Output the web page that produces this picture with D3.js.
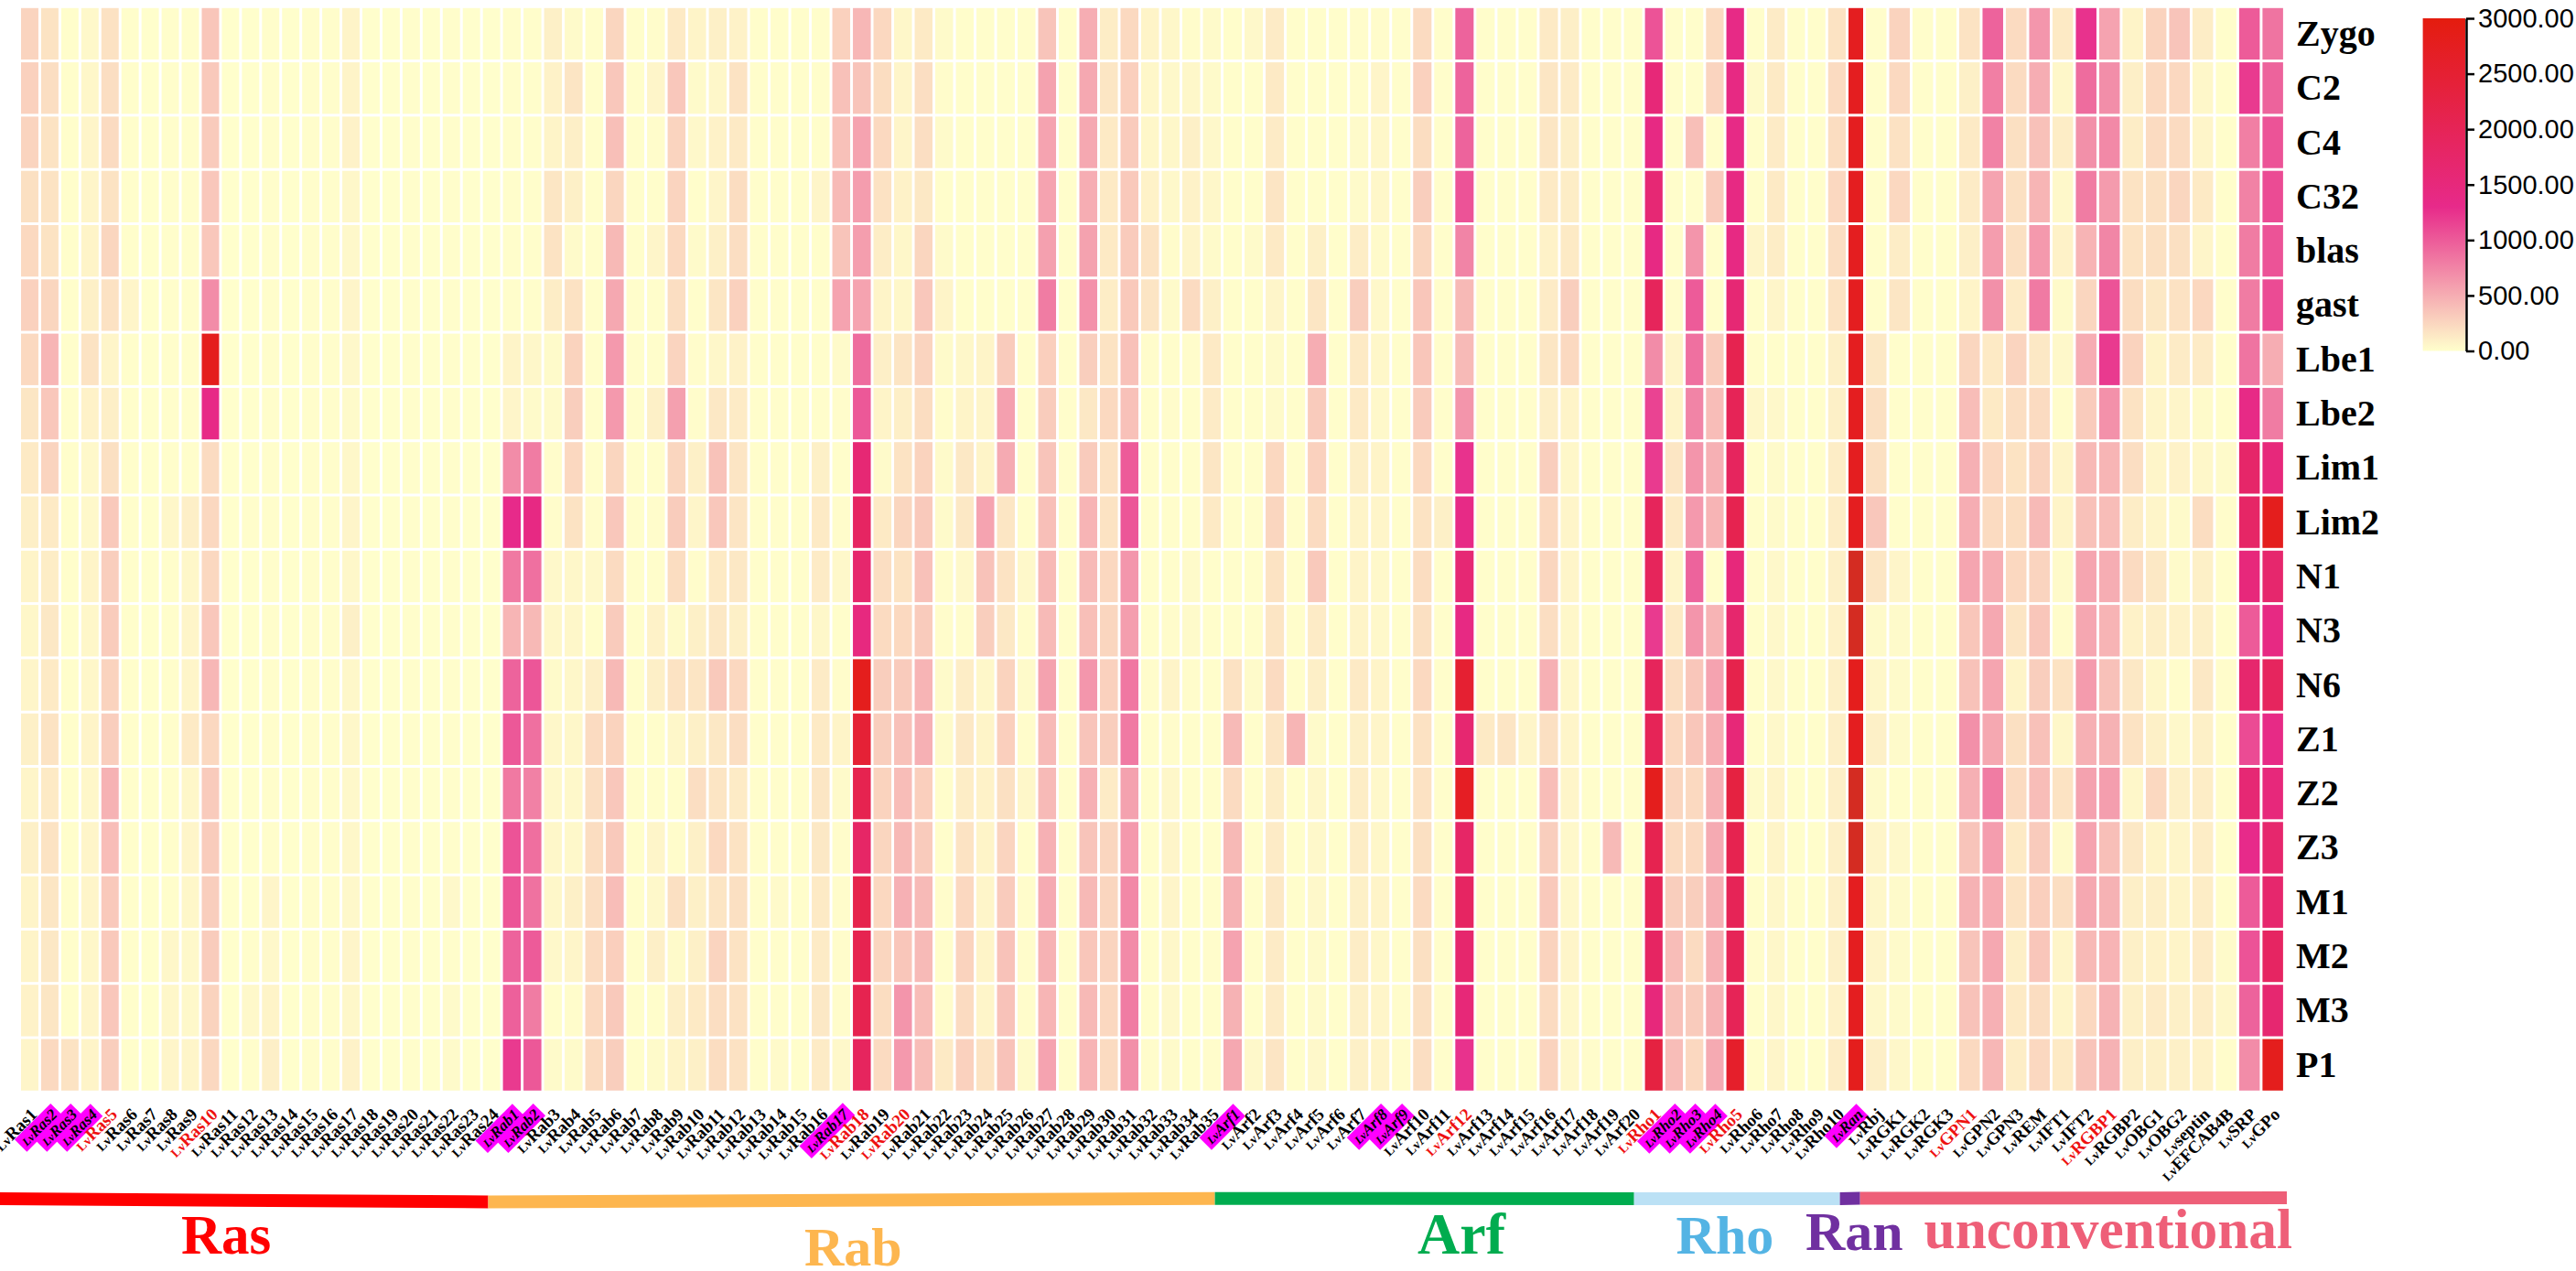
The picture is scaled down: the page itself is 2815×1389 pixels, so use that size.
<!DOCTYPE html>
<html><head><meta charset="utf-8">
<script src="https://cdn.jsdelivr.net/npm/d3@7/dist/d3.min.js"></script>
<style>html,body{margin:0;padding:0;background:#fff}svg{display:block}</style></head>
<body><svg id="c" width="2815" height="1389"></svg>
<script>
const stages = ["Zygo","C2","C4","C32","blas","gast","Lbe1","Lbe2","Lim1","Lim2","N1","N3","N6","Z1","Z2","Z3","M1","M2","M3","P1"];

const rasNames = ["LvRas1","LvRas2","LvRas3","LvRas4","LvRas5","LvRas6","LvRas7","LvRas8","LvRas9","LvRas10","LvRas11","LvRas12","LvRas13","LvRas14","LvRas15","LvRas16","LvRas17","LvRas18","LvRas19","LvRas20","LvRas21","LvRas22","LvRas23","LvRas24"];
const rabNames = ["LvRab1","LvRab2","LvRab3","LvRab4","LvRab5","LvRab6","LvRab7","LvRab8","LvRab9","LvRab10","LvRab11","LvRab12","LvRab13","LvRab14","LvRab15","LvRab16","LvRab17","LvRab18","LvRab19","LvRab20","LvRab21","LvRab22","LvRab23","LvRab24","LvRab25","LvRab26","LvRab27","LvRab28","LvRab29","LvRab30","LvRab31","LvRab32","LvRab33","LvRab34","LvRab35"];
const arfNames = ["LvArf1","LvArf2","LvArf3","LvArf4","LvArf5","LvArf6","LvArf7","LvArf8","LvArf9","LvArf10","LvArf11","LvArf12","LvArf13","LvArf14","LvArf15","LvArf16","LvArf17","LvArf18","LvArf19","LvArf20"];
const rhoNames = ["LvRho1","LvRho2","LvRho3","LvRho4","LvRho5","LvRho6","LvRho7","LvRho8","LvRho9","LvRho10"];
const ranNames = ["LvRan"];
const otherNames = ["LvRbj","LvRGK1","LvRGK2","LvRGK3","LvGPN1","LvGPN2","LvGPN3","LvREM","LvIFT1","LvIFT2","LvRGBP1","LvRGBP2","LvOBG1","LvOBG2","Lvseptin","LvEFCAB4B","LvSRP","LvGPo"];

const redLabels = ["LvRas5","LvRas10","LvRab18","LvRab20","LvArf12","LvRho1","LvRho5","LvGPN1","LvRGBP1"];
const boxedLabels = ["LvRas2","LvRas3","LvRas4","LvRab1","LvRab2","LvRab17","LvArf1","LvArf8","LvArf9","LvRho2","LvRho3","LvRho4","LvRan"];

// Each inner list is one gene, values in the order of `stages`.
const rasValues = [
[260,280,260,190,230,280,230,150,130,100,70,50,60,90,60,90,70,70,80,60],
[170,200,170,170,170,250,450,340,260,130,110,140,130,170,130,170,150,140,150,230],
[15,15,15,15,15,15,15,15,15,15,15,15,15,15,15,15,15,15,15,170],
[40,50,60,60,70,90,170,80,40,40,70,50,50,70,50,60,60,50,60,70],
[180,200,220,170,250,180,60,100,190,330,300,310,270,300,470,400,330,330,340,300],
[10,10,10,10,10,60,10,10,10,10,10,10,10,10,10,10,10,10,10,10],
[5,5,5,5,5,5,5,5,5,5,5,5,5,5,5,5,5,5,5,5],
[10,10,10,10,10,10,10,10,10,50,10,10,10,10,10,10,10,50,50,60],
[10,10,10,10,10,10,10,10,10,100,50,60,60,130,50,60,50,40,40,60],
[350,330,320,340,340,700,2800,1350,220,240,240,340,440,240,320,310,300,310,270,240],
[5,5,5,5,5,5,5,5,5,5,5,5,5,5,5,5,5,5,5,5],
[5,5,5,5,5,5,5,5,5,10,5,5,5,5,5,5,5,10,40,10],
[10,10,10,10,10,10,10,10,10,10,10,10,10,10,10,10,60,40,70,100],
[5,5,5,5,5,5,5,5,5,5,5,5,5,5,5,5,5,5,5,5],
[10,10,10,10,10,10,10,10,10,10,10,10,10,10,10,10,10,10,10,10],
[10,10,10,10,10,10,10,10,10,10,10,10,10,10,10,10,10,10,10,10],
[70,70,80,50,40,60,40,30,50,60,50,90,50,50,40,50,40,60,50,80],
[5,5,5,5,5,5,5,5,5,5,5,5,5,5,5,5,5,5,5,5],
[5,5,5,5,5,5,5,5,5,5,5,5,5,5,5,5,5,5,5,5],
[10,10,10,10,10,10,10,10,10,10,10,10,10,10,10,10,10,10,10,10],
[5,5,5,5,5,5,5,5,5,5,5,5,5,5,5,5,5,5,5,5],
[10,10,10,10,10,10,10,10,10,10,10,10,10,10,10,10,40,10,30,30],
[5,5,5,5,5,5,5,5,5,5,5,5,5,5,5,5,5,5,5,5],
[5,5,5,5,5,5,5,5,5,5,5,5,5,5,5,5,5,5,5,5]
];
const rabValues = [
[10,10,10,10,10,10,70,60,700,1300,820,450,950,1020,820,1050,1040,950,970,1200],
[10,10,10,10,10,10,50,30,800,1400,870,430,1030,870,770,880,860,1000,800,1020],
[90,80,70,150,170,110,30,30,20,20,40,50,30,50,40,50,50,40,10,30],
[30,160,100,90,30,180,270,300,240,170,50,50,50,50,40,40,90,60,20,30],
[10,10,10,10,10,10,10,10,10,20,40,10,100,220,200,210,200,220,230,220],
[250,340,390,250,430,530,620,620,250,340,220,320,430,270,340,330,400,290,330,300],
[10,10,10,10,10,10,10,10,10,10,10,10,10,10,10,10,10,10,10,10],
[20,60,20,10,60,10,10,90,10,20,10,80,100,10,10,60,40,100,10,30],
[130,340,260,260,230,200,260,580,250,310,210,30,170,50,10,20,190,30,100,70],
[70,30,40,10,30,10,20,20,90,60,20,90,160,90,200,90,90,90,130,90],
[90,50,80,60,90,150,50,140,370,340,130,140,330,140,160,230,160,260,200,210],
[80,170,130,210,200,280,80,120,160,160,140,90,240,200,120,170,190,170,180,180],
[10,10,10,10,10,10,10,10,10,10,10,10,10,10,10,10,10,10,10,10],
[10,10,10,10,10,10,10,10,10,10,10,10,10,10,10,10,30,10,10,30],
[10,10,10,10,10,10,10,10,10,10,10,10,10,10,10,10,10,10,10,10],
[10,10,10,60,10,10,10,10,90,130,120,50,120,130,150,140,130,120,140,120],
[280,380,380,420,360,560,30,20,10,20,40,10,20,70,30,20,20,20,20,40],
[440,360,560,600,590,560,900,1020,1600,1850,1700,1450,2800,2450,2100,1800,2150,2100,2100,1900],
[240,210,230,180,110,70,100,70,30,130,200,220,300,300,270,250,240,250,210,220],
[50,60,60,80,50,50,160,100,170,250,170,230,320,380,400,430,480,350,650,620],
[130,200,200,140,250,340,260,210,270,330,380,320,460,480,290,320,420,420,400,400],
[30,20,30,10,30,70,30,20,30,30,20,20,30,30,10,10,20,10,20,130],
[10,10,10,10,10,10,50,70,140,140,40,20,110,140,110,170,240,270,220,280],
[10,10,10,10,10,10,70,60,70,560,370,300,50,70,80,70,60,70,60,170],
[10,10,10,10,10,10,320,580,520,150,170,140,270,290,190,260,320,370,370,370],
[10,10,10,10,10,10,10,10,10,10,40,20,30,20,50,10,20,20,20,30],
[360,570,560,560,580,800,290,310,360,390,430,420,570,420,420,480,520,470,450,560],
[10,10,10,10,10,10,10,10,10,10,10,10,10,10,10,10,10,10,10,10],
[500,530,530,500,570,670,300,140,320,460,420,390,640,360,480,360,430,350,430,460],
[110,150,130,130,130,110,170,230,180,170,240,250,280,300,120,250,250,260,240,220],
[230,290,320,330,320,330,380,380,1000,1030,640,590,830,810,570,620,720,710,800,680],
[70,50,50,80,170,160,20,10,10,10,10,10,20,10,10,10,10,10,10,20],
[50,40,50,40,20,30,10,20,10,10,10,20,70,20,50,60,60,50,40,30],
[20,50,90,80,60,220,20,10,10,10,30,30,20,10,10,10,10,10,10,10],
[30,30,40,50,30,90,130,120,150,130,10,10,10,10,10,10,10,20,10,20]
];
const arfValues = [
[10,10,10,10,10,10,10,10,10,10,10,10,180,420,220,430,470,560,470,530],
[40,10,10,10,30,10,10,10,10,10,10,10,30,10,10,10,10,10,10,40],
[120,130,120,160,130,60,30,30,240,250,170,160,220,160,110,120,140,120,120,160],
[10,10,10,10,10,10,10,10,10,10,10,10,10,450,10,10,10,10,10,10],
[10,10,10,10,90,150,500,320,280,220,330,120,100,30,50,40,40,30,30,40],
[10,10,10,10,10,10,10,10,10,10,10,10,10,10,10,10,10,10,10,10],
[20,20,30,30,110,300,130,130,100,70,70,70,130,90,110,110,90,110,90,90],
[20,60,50,50,30,40,50,40,70,60,40,40,70,60,40,50,70,50,60,70],
[10,10,10,10,10,10,10,10,10,10,10,10,10,10,10,10,10,10,20,20],
[220,280,210,300,250,350,350,320,230,170,210,190,230,180,180,190,220,190,190,200],
[10,10,10,10,10,10,10,10,10,90,10,10,10,10,10,10,10,10,10,10],
[950,950,950,1050,750,430,420,650,1250,1350,1600,1400,2500,1650,2700,1800,1850,1700,1550,1250],
[10,10,10,10,10,10,10,10,10,10,10,10,10,130,10,10,10,10,10,10],
[10,10,10,10,10,10,10,10,10,10,10,10,10,160,10,10,10,10,10,10],
[10,10,10,10,10,10,10,10,10,10,10,10,10,60,10,10,10,10,10,10],
[130,150,150,130,80,120,150,100,300,230,250,200,480,190,400,300,330,270,220,270],
[100,120,100,110,130,300,230,70,50,60,60,50,50,60,60,40,40,60,40,40],
[10,10,10,10,10,10,10,10,10,10,10,10,10,10,10,10,10,10,10,20],
[10,10,10,10,10,10,10,10,10,10,10,10,10,10,10,420,10,10,10,10],
[10,10,10,10,10,10,10,10,10,10,10,10,10,10,10,10,10,10,10,10]
];
const rhoValues = [
[1050,1550,1400,1600,1400,1950,700,1150,1200,1950,1950,1200,1950,2000,2800,2100,2000,1850,1500,2300],
[10,10,10,10,10,20,60,70,150,130,60,130,200,240,250,220,300,400,380,400],
[10,10,390,10,650,1000,870,750,650,620,950,650,350,350,230,230,300,220,320,240],
[220,260,10,320,10,10,320,400,480,460,10,460,560,500,480,520,480,480,470,520],
[1350,1400,1350,1400,1400,1600,2100,2000,1900,2100,1500,1700,2150,1550,2300,2100,2000,2000,2000,2600],
[10,30,10,10,60,10,10,50,10,10,10,10,10,10,30,10,10,20,10,10],
[120,130,120,130,110,60,10,40,30,30,40,40,40,40,70,70,50,50,50,60],
[10,10,10,10,10,10,10,10,10,10,10,10,10,10,10,10,10,10,10,10],
[10,10,10,10,10,10,10,10,10,10,10,10,10,10,10,10,10,10,10,10],
[170,220,210,240,200,170,90,90,110,110,90,80,90,100,100,90,90,90,80,110]
];
const ranValues = [
[2750,2750,2750,2750,2750,2750,2750,2750,2750,2750,2900,3000,2800,2750,3000,2900,2750,2750,2750,2800]
];
const otherValues = [
[10,10,10,10,10,10,140,190,190,340,150,30,50,90,30,60,50,60,40,100],
[270,230,180,240,110,150,10,10,10,10,60,30,30,30,10,40,30,30,30,50],
[10,10,10,10,10,10,10,10,10,10,10,10,10,10,10,10,10,10,10,10],
[10,10,10,10,10,10,10,10,10,10,10,10,10,10,10,10,10,10,10,10],
[170,90,130,120,100,70,250,400,480,500,550,350,370,680,480,360,470,360,370,230],
[950,780,760,560,600,680,130,130,240,220,500,530,550,530,800,600,510,530,480,440],
[220,220,190,190,190,120,260,200,170,210,240,160,70,190,220,130,170,100,130,110],
[640,500,380,450,620,810,140,220,270,420,260,350,300,380,400,320,290,350,210,240],
[130,50,110,40,80,30,40,20,70,70,30,20,170,50,170,30,200,60,60,130],
[1250,900,680,800,460,250,500,320,430,380,550,540,610,480,570,560,530,430,240,360],
[560,690,720,610,740,1050,1200,670,450,400,500,460,380,470,590,390,470,460,470,470],
[70,100,110,170,170,210,270,170,200,110,220,80,140,170,50,140,100,90,90,100],
[270,230,220,190,190,140,70,60,60,60,140,100,50,90,240,70,100,80,120,90],
[360,240,220,250,190,180,120,60,80,30,30,80,20,40,90,60,70,70,90,90],
[110,50,60,130,60,240,120,30,50,210,90,100,140,90,110,110,110,120,110,80],
[10,10,10,10,10,10,10,10,30,20,10,10,20,10,20,10,10,30,50,20],
[1000,1200,780,760,800,800,850,1350,1750,1800,1500,1000,1700,1100,1600,1300,1000,1050,950,700],
[850,950,1050,1100,1050,1100,500,800,1500,2800,1700,1400,1900,1350,1500,1700,1700,1850,1650,2800]
];

const familyNames = ["Ras","Rab","Arf","Rho","Ran","unconventional"];
const familyColors = ["#FF0000","#FDB64F","#00AC4F","#BBE1F5","#7030A0","#EE5F78"];
const familyTextColors = ["#FF0000","#FDB64F","#00AC4F","#54B4E4","#7030A0","#EE5F78"];
const colorTicks = [0,500,1000,1500,2000,2500,3000];
const dimmedRanStages = ["N1","N3","Z2","Z3"];

const genes = [...rasNames,...rabNames,...arfNames,...rhoNames,...ranNames,...otherNames];
const columns = [...rasValues,...rabValues,...arfValues,...rhoValues,...ranValues,...otherValues];
const familySizes = [rasNames,rabNames,arfNames,rhoNames,ranNames,otherNames].map(a=>a.length);
const edges = d3.cumsum([0,...familySizes]);

const svg = d3.select("#c");
const serif = "'Liberation Serif','Times New Roman',serif";

// Column widths differ by family, so the x scale is piecewise over the family boundaries.
const x = d3.scaleLinear().domain(edges).range([23,549.6,1337,1797.6,2020,2039,2497.9]);
const y = d3.scaleBand().domain(stages).range([7.3,1193.3]);
const color = d3.scaleLinear().domain([0,1300,3000]).range(["#FFFFCC","#E72A8A","#E41C0E"]).clamp(true);

const cells = columns.flatMap((col,i)=>col.map((v,r)=>({i,r,v})));
svg.append("g").selectAll("rect").data(cells).join("rect")
  .attr("x",d=>x(d.i)).attr("y",d=>y(stages[d.r])+1.5)
  .attr("width",d=>x(d.i+1)-x(d.i)-3).attr("height",y.step()-3)
  .attr("fill",d=>(genes[d.i]==="LvRan"&&dimmedRanStages.includes(stages[d.r]))?"#D42C22":color(d.v));

// Stage labels on the right
svg.append("g").selectAll("text").data(stages).join("text")
  .attr("x",2509).attr("y",d=>y(d)+y.step()/2+13)
  .attr("font-family",serif).attr("font-weight","bold").attr("font-size",40).attr("fill","#000")
  .text(d=>d);

// Gene labels
const lab = svg.append("g").selectAll("g").data(genes).join("g")
  .attr("transform",(d,i)=>`translate(${(x(i)+x(i+1)-3)/2+9},1219) rotate(-45)`);
lab.each(function(d){
  const g=d3.select(this), boxed=boxedLabels.includes(d);
  const t=g.append("text").attr("text-anchor","end").attr("font-family",serif).attr("font-weight","bold")
    .attr("font-style",boxed?"italic":"normal")
    .attr("fill",redLabels.includes(d)?"#EE1111":"#000");
  t.append("tspan").attr("font-size",boxed?12.5:14).text("Lv");
  t.append("tspan").attr("font-size",boxed?17:19).text(d.slice(2));
  if(boxed){
    const b=t.node().getBBox();
    g.insert("rect","text").attr("x",b.x-3).attr("y",-15).attr("width",b.width+6).attr("height",19).attr("fill","#FF00FF");
  }
});

// Family stripes
const stripeX = d3.scaleLinear().domain(edges).range([0,533.5,1327.6,1785.7,2010.6,2032.7,2499]);
const stripeTop = d3.scaleLinear().domain(edges).range([1303,1306.5,1302.7,1303,1303,1302.5,1302]);
const stripeH = 14;
const poly = d3.line();
svg.append("g").selectAll("path").data(familyNames).join("path")
  .attr("fill",(d,i)=>familyColors[i])
  .attr("d",(d,i)=>{
    const a=edges[i],b=edges[i+1];
    return poly([[stripeX(a),stripeTop(a)],[stripeX(b),stripeTop(b)],[stripeX(b),stripeTop(b)+stripeH],[stripeX(a),stripeTop(a)+stripeH]])+"Z";
  });

// Family names
const famX = [198,879,1549,1831.6,1973,2102.5];
const famY = [1370,1383,1370,1370,1366,1364];
const famSize = [61,60,64,60,60,61.4];
svg.append("g").selectAll("text").data(familyNames).join("text")
  .attr("x",(d,i)=>famX[i]).attr("y",(d,i)=>famY[i])
  .attr("font-family",serif).attr("font-weight","bold").attr("font-size",(d,i)=>famSize[i])
  .attr("fill",(d,i)=>familyTextColors[i]).text(d=>d);

// Colour bar
const bar = d3.scaleLinear().domain([0,3000]).range([383.5,20]);
const defs = svg.append("defs");
const grad = defs.append("linearGradient").attr("id","cb").attr("x1",0).attr("x2",0).attr("y1",1).attr("y2",0);
grad.selectAll("stop").data([0,1300,3000]).join("stop")
  .attr("offset",d=>d/3000).attr("stop-color",d=>color(d));
svg.append("rect").attr("x",2647.6).attr("y",bar(3000)).attr("width",46.4).attr("height",bar(0)-bar(3000)).attr("fill","url(#cb)");
const axis = svg.append("g").attr("transform","translate(2695,0)")
  .call(d3.axisRight(bar).tickValues(colorTicks).tickFormat(d3.format(".2f")).tickSize(9).tickPadding(4).tickSizeOuter(0));
axis.select(".domain").attr("stroke","#000").attr("stroke-width",2.5);
axis.selectAll(".tick line").attr("stroke","#000").attr("stroke-width",2.5);
axis.selectAll(".tick text").attr("font-family","'Liberation Sans',Arial,sans-serif").attr("font-size",29).attr("fill","#000");
</script></body></html>
